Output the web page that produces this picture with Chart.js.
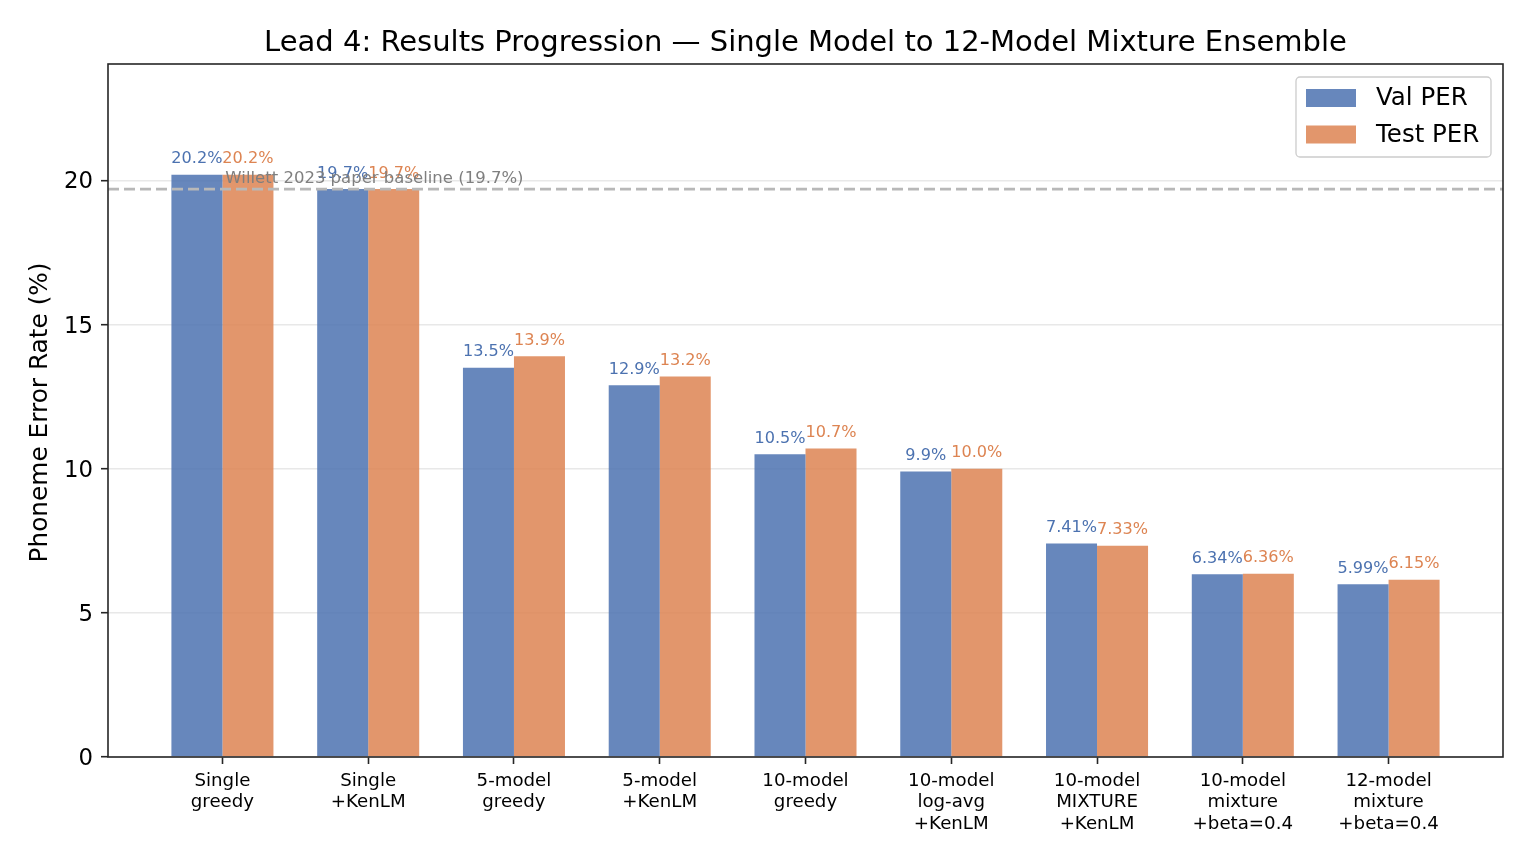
<!DOCTYPE html>
<html>
<head>
<meta charset="utf-8">
<script src="https://cdn.jsdelivr.net/npm/chart.js@4.4.1/dist/chart.umd.min.js"></script>
<style>
  html, body { margin: 0; padding: 0; background: #ffffff; }
  #wrap { width: 1533px; height: 865px; }
</style>
</head>
<body>
<div id="wrap"><canvas id="perChart"></canvas></div>
<script>
// categories (multi-line tick labels)
var categories = [
    ['Single', 'greedy'],
    ['Single', '+KenLM'],
    ['5-model', 'greedy'],
    ['5-model', '+KenLM'],
    ['10-model', 'greedy'],
    ['10-model', 'log-avg', '+KenLM'],
    ['10-model', 'MIXTURE', '+KenLM'],
    ['10-model', 'mixture', '+beta=0.4'],
    ['12-model', 'mixture', '+beta=0.4']
];
var valPER = [20.2, 19.7, 13.5, 12.9, 10.5, 9.9, 7.41, 6.34, 5.99];
var testPER = [20.2, 19.7, 13.9, 13.2, 10.7, 10.0, 7.33, 6.36, 6.15];
// decimals used for the value labels above each bar
var labelDecimals = [1, 1, 1, 1, 1, 1, 2, 2, 2];
var yTicks = [0, 5, 10, 15, 20];
var baselinePER = 19.7;
var baselineLabel = 'Willett 2023 paper baseline (19.7%)';

var FONT = "'DejaVu Sans', sans-serif";

function toPoints(arr) {
    return arr.map(function (v, i) { return { x: i, y: v }; });
}

// draws value labels, baseline, frame, title, y label and legend
var extras = {
    id: 'extras',
    afterDatasetsDraw: function (chart) {
        var ctx = chart.ctx;
        var xs = chart.scales.x, ys = chart.scales.y;
        var area = chart.chartArea;

        // baseline (dashed)
        var by = ys.getPixelForValue(baselinePER);
        ctx.save();
        ctx.strokeStyle = '#b8b8b8';
        ctx.lineWidth = 2.6;
        ctx.setLineDash([11, 5]);
        ctx.beginPath();
        ctx.moveTo(area.left, by);
        ctx.lineTo(area.right, by);
        ctx.stroke();
        ctx.restore();

        // value labels
        ctx.save();
        ctx.font = '16.1px ' + FONT;
        ctx.textAlign = 'center';
        ctx.textBaseline = 'alphabetic';
        var colors = ['#4c72b0', '#dd8452'];
        chart.data.datasets.forEach(function (ds, di) {
            var meta = chart.getDatasetMeta(di);
            var src = di === 0 ? valPER : testPER;
            meta.data.forEach(function (el, i) {
                ctx.fillStyle = colors[di];
                ctx.fillText(src[i].toFixed(labelDecimals[i]) + '%', el.x, el.y - 11.5);
            });
        });
        ctx.restore();

        // baseline text
        ctx.save();
        ctx.font = '16.5px ' + FONT;
        ctx.fillStyle = '#7f7f7f';
        ctx.textAlign = 'left';
        ctx.textBaseline = 'alphabetic';
        ctx.fillText(baselineLabel, xs.getPixelForValue(0.02), ys.getPixelForValue(19.9));
        ctx.restore();
    },
    afterDraw: function (chart) {
        var ctx = chart.ctx;
        var area = chart.chartArea;

        // frame
        ctx.save();
        ctx.strokeStyle = '#262626';
        ctx.lineWidth = 1.6;
        ctx.strokeRect(area.left, area.top, area.right - area.left, area.bottom - area.top);
        ctx.restore();

        // title
        ctx.save();
        ctx.font = '29px ' + FONT;
        ctx.fillStyle = '#000000';
        ctx.textAlign = 'center';
        ctx.textBaseline = 'middle';
        ctx.fillText('Lead 4: Results Progression \u2014 Single Model to 12-Model Mixture Ensemble',
            (area.left + area.right) / 2, 43);
        ctx.restore();

        // y axis label
        ctx.save();
        ctx.font = '24.8px ' + FONT;
        ctx.fillStyle = '#000000';
        ctx.textAlign = 'center';
        ctx.textBaseline = 'middle';
        ctx.translate(41, (area.top + area.bottom) / 2 + 2);
        ctx.rotate(-Math.PI / 2);
        ctx.fillText('Phoneme Error Rate (%)', 0, 0);
        ctx.restore();

        // legend
        var lx = 1296, ly = 77, lw = 195, lh = 80;
        ctx.save();
        ctx.fillStyle = 'rgba(255,255,255,0.8)';
        ctx.strokeStyle = '#cccccc';
        ctx.lineWidth = 1.3;
        ctx.beginPath();
        ctx.roundRect(lx, ly, lw, lh, 4);
        ctx.fill();
        ctx.stroke();
        ctx.font = '24.5px ' + FONT;
        ctx.textAlign = 'left';
        ctx.textBaseline = 'middle';
        chart.data.datasets.forEach(function (ds, di) {
            var cy = ly + 21 + di * 36.5;
            ctx.fillStyle = ds.backgroundColor;
            ctx.fillRect(lx + 10, cy - 9, 50, 18);
            ctx.fillStyle = '#000000';
            ctx.fillText(ds.label, lx + 80, cy + 1);
        });
        ctx.restore();
    }
};

var ctx = document.getElementById('perChart').getContext('2d');
var perChart = new Chart(ctx, {
    type: 'bar',
    data: {
        datasets: [{
            label: 'Val PER',
            data: toPoints(valPER),
            backgroundColor: 'rgba(76, 114, 176, 0.85)',
            borderWidth: 0
        }, {
            label: 'Test PER',
            data: toPoints(testPER),
            backgroundColor: 'rgba(221, 132, 82, 0.85)',
            borderWidth: 0
        }]
    },
    options: {
        responsive: true,
        maintainAspectRatio: false,
        animation: false,
        devicePixelRatio: 1,
        categoryPercentage: 0.7,
        barPercentage: 1.0,
        layout: { padding: { top: 64, right: 30, left: 0, bottom: 0 } },
        plugins: {
            legend: { display: false },
            title: { display: false },
            tooltip: { enabled: false }
        },
        scales: {
            x: {
                type: 'linear',
                min: -0.785,
                max: 8.785,
                offset: false,
                afterBuildTicks: function (axis) {
                    axis.ticks = categories.map(function (c, i) { return { value: i }; });
                },
                afterFit: function (scale) { scale.height = 108; },
                grid: {
                    offset: false,
                    drawOnChartArea: false,
                    tickLength: 7,
                    tickColor: '#262626',
                    tickWidth: 1.6
                },
                border: { display: false },
                ticks: {
                    autoSkip: false,
                    maxRotation: 0,
                    padding: 6,
                    color: '#000000',
                    font: { family: FONT, size: 18.2, lineHeight: 1.19 },
                    callback: function (v) { return categories[v]; }
                }
            },
            y: {
                min: 0,
                max: 24.04,
                afterBuildTicks: function (axis) {
                    axis.ticks = yTicks.map(function (v) { return { value: v }; });
                },
                afterFit: function (scale) { scale.width = 108; },
                grid: {
                    color: '#e8e8e8',
                    lineWidth: 1.4,
                    tickLength: 7,
                    tickColor: '#262626',
                    tickWidth: 1.6
                },
                border: { display: false },
                ticks: {
                    padding: 8,
                    labelOffset: 2,
                    color: '#000000',
                    font: { family: FONT, size: 22.8 }
                }
            }
        }
    },
    plugins: [extras]
});
</script>
</body>
</html>
